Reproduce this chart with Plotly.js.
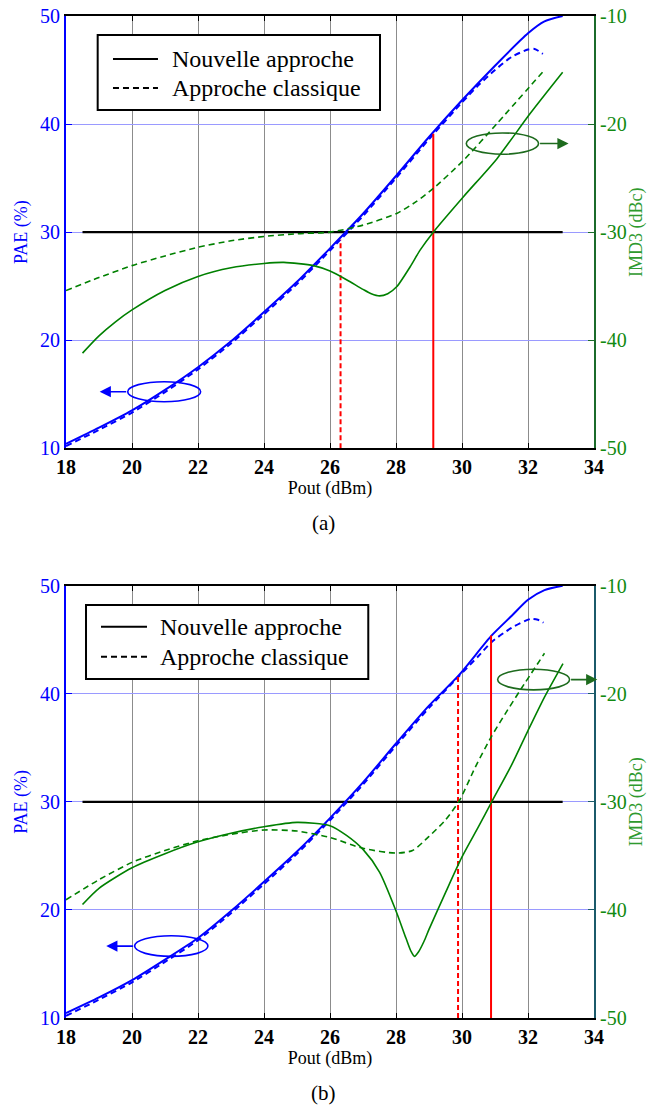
<!DOCTYPE html>
<html>
<head>
<meta charset="utf-8">
<script src="https://cdn.plot.ly/plotly-3.0.1.min.js"></script>
<style>
html,body{margin:0;padding:0;background:#fff;}
#chart{width:647px;height:1113px;}
</style>
</head>
<body>
<div id="chart"></div>
<script>
// ---------- (a) ----------
var xPaeNewA   = [18, 19, 20, 21, 22, 23, 24, 25, 26, 27, 28, 29, 30, 31, 32, 32.5, 33.05];
var paeNewA    = [10.4, 11.9, 13.5, 15.4, 17.5, 19.9, 22.6, 25.4, 28.5, 31.7, 35.2, 38.8, 42.2, 45.4, 48.4, 49.5, 50.0];
var xPaeClassA = [18, 19, 20, 21, 22, 23, 24, 25, 26, 27, 28, 29, 30, 30.5, 31, 31.5, 32, 32.2, 32.45];
var paeClassA  = [10.2, 11.7, 13.3, 15.2, 17.3, 19.7, 22.4, 25.2, 28.3, 31.5, 35.0, 38.6, 42.0, 43.6, 45.0, 46.2, 46.9, 46.95, 46.5];
var xImdNewA   = [18.5, 19, 19.5, 20, 21, 22, 23, 24, 24.6, 25.5, 26, 26.5, 27, 27.25, 27.5, 27.75, 28.02, 28.43, 28.73, 29.13, 30.05, 31.06, 32.07, 33.05];
var imdNewA    = [-41.2, -39.6, -38.3, -37.2, -35.4, -34.1, -33.3, -32.9, -32.8, -33.1, -33.6, -34.4, -35.3, -35.7, -35.9, -35.7, -35.06, -33.2, -31.66, -30.0, -26.7, -23.2, -19.0, -15.2];
var xImdClassA = [18, 19, 20, 21, 22, 23, 24, 25, 26, 27, 28.02, 28.6, 29.13, 30.05, 31.06, 32.44];
var imdClassA  = [-35.4, -34.2, -33.1, -32.2, -31.4, -30.8, -30.4, -30.15, -30.0, -29.35, -28.27, -27.2, -25.96, -23.34, -19.95, -15.2];
var xMarkA     = [26.32, 29.13];   // dashed (classique), solid (nouvelle)
var paeMarkA   = [29.3, 39.1];

// ---------- (b) ----------
var xPaeNewB   = [18, 19, 20, 21, 22, 23, 24, 25, 26, 27, 28, 29, 29.9, 30.9, 31.5, 32, 32.5, 33.05];
var paeNewB    = [10.45, 11.9, 13.5, 15.4, 17.4, 19.9, 22.6, 25.4, 28.5, 31.8, 35.4, 38.9, 41.7, 45.4, 47.2, 48.7, 49.6, 50.0];
var xPaeClassB = [18, 19, 20, 21, 22, 23, 24, 25, 26, 27, 28, 29, 29.9, 30.5, 30.9, 31.5, 32.07, 32.3, 32.47];
var paeClassB  = [10.2, 11.7, 13.3, 15.2, 17.2, 19.7, 22.4, 25.2, 28.3, 31.6, 35.2, 38.7, 41.6, 43.5, 44.8, 46.1, 46.92, 46.85, 46.58];
var xImdNewB   = [18.5, 19, 20, 21, 22, 23, 24, 25, 26, 26.5, 27, 27.5, 28, 28.3, 28.45, 28.56, 28.68, 28.85, 29, 29.5, 30, 30.5, 30.9, 31.5, 32.0, 32.5, 33.06];
var imdNewB    = [-39.5, -38.0, -36.1, -34.8, -33.7, -32.9, -32.3, -31.9, -32.2, -33.1, -34.4, -36.5, -40.1, -42.6, -43.8, -44.3, -43.9, -42.9, -41.8, -38.4, -35.1, -32.3, -30.0, -26.6, -23.4, -20.3, -17.2];
var xImdClassB = [18, 19, 20, 21, 22, 23, 24, 25, 26, 27, 28, 28.5, 29, 29.5, 29.93, 30.4, 30.89, 31.3, 31.77, 32.5];
var imdClassB  = [-39.06, -37.2, -35.6, -34.5, -33.6, -33.0, -32.6, -32.7, -33.3, -34.3, -34.74, -34.5, -33.2, -31.67, -29.83, -26.8, -23.96, -21.9, -19.64, -16.25];
var xMarkB     = [29.88, 30.88];
var paeMarkB   = [41.7, 45.4];

// reference line (-30 dBc on the PAE scale = 30)
var xRef = [18.5, 33.05];
var yRef = [30, 30];

var xTicks = [18, 20, 22, 24, 26, 28, 30, 32, 34];
var paeTicks = [10, 20, 30, 40, 50];
var imdTicks = [-50, -40, -30, -20, -10];

var legendNames = ['Nouvelle approche', 'Approche classique'];
var xTitle = 'Pout (dBm)';
var yTitleL = 'PAE (%)';
var yTitleR = 'IMD3 (dBc)';
var panelLabels = ['(a)', '(b)'];

// ellipse markers: [x0, x1, y0, y1, arrowTipX]
var ellBlueA  = [19.87, 22.08, 14.31, 16.16, 19.02];
var ellGreenA = [30.13, 32.32, 37.21, 39.18, 33.23];
var ellBlueB  = [20.08, 22.30, 15.70, 17.61, 19.22];
var ellGreenB = [31.08, 33.26, 40.36, 42.27, 34.10];

var BLUE = '#0000ff', GREEN = '#008000', RED = '#ff0000';
var DASH = '6px,4px';
var SERIF = 'Liberation Serif';

function tr(x, y, xa, ya, color, width, dash, extra) {
  var t = {x: x, y: y, xaxis: xa, yaxis: ya, mode: 'lines', showlegend: false, hoverinfo: 'skip',
    line: {color: color, width: width, dash: dash || 'solid', shape: 'spline', smoothing: 0.7}};
  if (extra) for (var k in extra) t[k] = extra[k];
  return t;
}
function vline(xv, top, xa, ya, dash) {
  return tr([xv, xv], [10, top], xa, ya, RED, 2, dash, {line: {color: RED, width: 2, dash: dash}});
}

var data = [
  // panel (a)
  tr(xRef, yRef, 'x', 'y', '#000', 2.2, 'solid'),
  tr(xPaeClassA, paeClassA, 'x', 'y', BLUE, 2, DASH, {name: legendNames[1]}),
  tr(xPaeNewA, paeNewA, 'x', 'y', BLUE, 2, 'solid', {name: legendNames[0]}),
  vline(xMarkA[0], paeMarkA[0], 'x', 'y', '5px,3px'),
  vline(xMarkA[1], paeMarkA[1], 'x', 'y', 'solid'),
  tr(xImdClassA, imdClassA, 'x', 'y2', GREEN, 1.6, DASH, {name: legendNames[1]}),
  tr(xImdNewA, imdNewA, 'x', 'y2', GREEN, 1.6, 'solid', {name: legendNames[0]}),
  // panel (b)
  tr(xRef, yRef, 'x2', 'y3', '#000', 2.2, 'solid'),
  tr(xPaeClassB, paeClassB, 'x2', 'y3', BLUE, 2, DASH, {name: legendNames[1]}),
  tr(xPaeNewB, paeNewB, 'x2', 'y3', BLUE, 2, 'solid', {name: legendNames[0]}),
  vline(xMarkB[0], paeMarkB[0], 'x2', 'y3', '5px,3px'),
  vline(xMarkB[1], paeMarkB[1], 'x2', 'y3', 'solid'),
  tr(xImdClassB, imdClassB, 'x2', 'y4', GREEN, 1.6, DASH, {name: legendNames[1]}),
  tr(xImdNewB, imdNewB, 'x2', 'y4', GREEN, 1.6, 'solid', {name: legendNames[0]})
];

var TOP = [0.5686, 1], BOT = [0, 0.4314];

function xAxis(anchor) {
  return {anchor: anchor, domain: [0, 1], range: [18, 34], tickvals: xTicks,
    ticktext: xTicks.map(function(v){ return '<b>' + v + '</b>'; }),
    showline: true, linecolor: '#000', linewidth: 2, mirror: 'ticks', ticks: 'inside', ticklen: 5, tickcolor: '#000',
    showgrid: true, gridcolor: '#8c8c8c', gridwidth: 1, zeroline: false,
    tickfont: {family: SERIF, size: 20, color: '#000'},
    title: {text: xTitle, font: {family: SERIF, size: 18, color: '#000'}, standoff: 2}, automargin: false};
}
function yLeft(anchor, dom) {
  return {anchor: anchor, domain: dom, range: [10, 50], tickvals: paeTicks,
    showline: true, linecolor: BLUE, linewidth: 2, ticks: 'inside', ticklen: 6, tickcolor: BLUE,
    showgrid: true, gridcolor: '#9a9aff', gridwidth: 1, zeroline: false,
    tickfont: {family: SERIF, size: 20, color: BLUE},
    title: {text: yTitleL, font: {family: SERIF, size: 18, color: BLUE}, standoff: 8}, automargin: false};
}
function yRight(anchor, over, lineColor) {
  return {anchor: anchor, overlaying: over, side: 'right', range: [-50, -10], tickvals: imdTicks,
    ticktext: imdTicks.map(String),
    showline: true, linecolor: lineColor, linewidth: 2, ticks: 'inside', ticklen: 6, tickcolor: lineColor,
    showgrid: false, zeroline: false,
    tickfont: {family: SERIF, size: 20, color: '#128a12'},
    title: {text: yTitleR, font: {family: SERIF, size: 18, color: '#2e9a2e'}, standoff: 6}, automargin: false};
}

function ellipse(e, xr, yr, color) {
  return {type: 'circle', xref: xr, yref: yr, x0: e[0], x1: e[1], y0: e[2], y1: e[3],
    line: {color: color, width: 1.6}, layer: 'above'};
}
function arrow(e, xr, yr, color, leftward) {
  var yc = (e[2] + e[3]) / 2;
  return {x: e[4], y: yc, ax: leftward ? e[0] : e[1], ay: yc, xref: xr, yref: yr, axref: xr, ayref: yr,
    text: '', showarrow: true, arrowhead: 2, arrowsize: 1.4, arrowwidth: 1.6, arrowcolor: color, standoff: 0};
}

// hand-built legend boxes (paper coordinates): [boxX0, boxX1, boxY0, boxY1, lineX0, lineX1, row1Y, row2Y, textX]
var legBoxA = [0.060, 0.5947, 0.9062, 0.9810, 0.0890, 0.1742, 0.9571, 0.9281, 0.1970];
var legBoxB = [0.0379, 0.5725, 0.3383, 0.4122, 0.0663, 0.1534, 0.3905, 0.3606, 0.1748];

function legendShapes(b) {
  return [
    {type: 'rect', xref: 'paper', yref: 'paper', x0: b[0], x1: b[1], y0: b[2], y1: b[3],
      fillcolor: '#fff', line: {color: '#000', width: 2}, layer: 'above'},
    {type: 'line', xref: 'paper', yref: 'paper', x0: b[4], x1: b[5], y0: b[6], y1: b[6],
      line: {color: '#000', width: 2}, layer: 'above'},
    {type: 'line', xref: 'paper', yref: 'paper', x0: b[4], x1: b[5], y0: b[7], y1: b[7],
      line: {color: '#000', width: 2, dash: DASH}, layer: 'above'}
  ];
}
function legendTexts(b) {
  return [0, 1].map(function(i) {
    return {text: legendNames[i], xref: 'paper', yref: 'paper', x: b[8], y: i === 0 ? b[6] : b[7],
      xanchor: 'left', yanchor: 'middle', showarrow: false, font: {family: SERIF, size: 24, color: '#000'}};
  });
}

var layout = {
  width: 647, height: 1113,
  margin: {l: 66, r: 53, t: 16, b: 95},
  paper_bgcolor: '#fff', plot_bgcolor: '#fff',
  font: {family: SERIF, color: '#000'},
  showlegend: false,
  xaxis: xAxis('y'),
  yaxis: yLeft('x', TOP),
  yaxis2: yRight('x', 'y', '#1b6b2b'),
  xaxis2: xAxis('y3'),
  yaxis3: yLeft('x2', BOT),
  yaxis4: yRight('x2', 'y3', '#1b5a6a'),
  shapes: [
    ellipse(ellBlueA, 'x', 'y', BLUE),
    ellipse(ellGreenA, 'x', 'y', '#1e6b1e'),
    ellipse(ellBlueB, 'x2', 'y3', BLUE),
    ellipse(ellGreenB, 'x2', 'y3', '#1e6b1e')
  ].concat(legendShapes(legBoxA), legendShapes(legBoxB)),
  annotations: [
    arrow(ellBlueA, 'x', 'y', BLUE, true),
    arrow(ellGreenA, 'x', 'y', '#1e6b1e', false),
    arrow(ellBlueB, 'x2', 'y3', BLUE, true),
    arrow(ellGreenB, 'x2', 'y3', '#1e6b1e', false),
    {text: panelLabels[0], xref: 'paper', yref: 'paper', x: 0.487, y: 0.494, xanchor: 'center', yanchor: 'middle',
      showarrow: false, font: {family: SERIF, size: 21, color: '#000'}},
    {text: panelLabels[1], xref: 'paper', yref: 'paper', x: 0.487, y: -0.075, xanchor: 'center', yanchor: 'middle',
      showarrow: false, font: {family: SERIF, size: 21, color: '#000'}}
  ].concat(legendTexts(legBoxA), legendTexts(legBoxB))
};

Plotly.newPlot('chart', data, layout, {displayModeBar: false, staticPlot: true});
</script>
</body>
</html>
